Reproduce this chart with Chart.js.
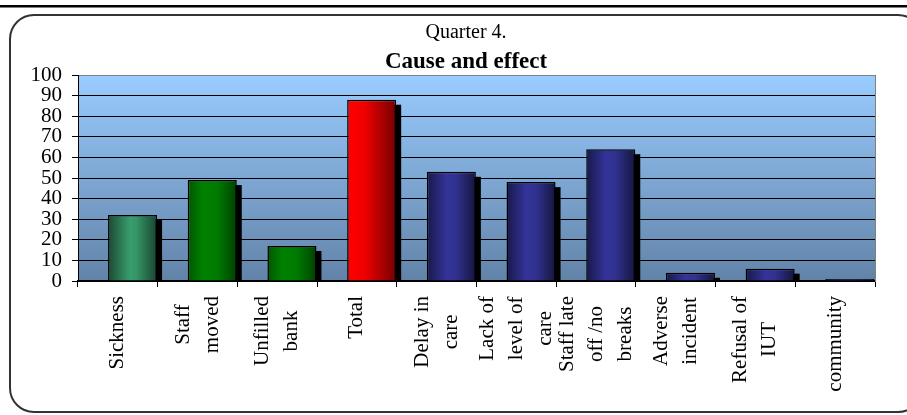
<!DOCTYPE html>
<html>
<head>
<meta charset="utf-8">
<title>Quarter 4. Cause and effect</title>
<script src="https://cdn.jsdelivr.net/npm/chart.js@4.4.0/dist/chart.umd.min.js"></script>
<style>
  html, body { margin: 0; padding: 0; background: #fff; }
  #wrap { width: 907px; height: 415px; position: relative; }
</style>
</head>
<body>
<div id="wrap"><canvas id="chart"></canvas></div>
<script>
// Categories (multi-line, as printed under the axis)
const categories = [
  ['Sickness'],
  ['Staff', 'moved'],
  ['Unfilled', 'bank'],
  ['Total'],
  ['Delay in', 'care'],
  ['Lack of', 'level of', 'care'],
  ['Staff late', 'off /no', 'breaks'],
  ['Adverse', 'incident'],
  ['Refusal of', 'IUT'],
  ['community']
];

// Number of occurrences per category
const counts = [32, 49, 17, 88, 53, 48, 64, 4, 6, 1];

// Value axis tick labels
const tickLabels = ['0', '10', '20', '30', '40', '50', '60', '70', '80', '90', '100'];

// Colour family used by each bar
const shadeGroups = ['sea', 'green', 'green', 'red', 'navy', 'navy', 'navy', 'navy', 'navy', 'navy'];

// Horizontal gradient stops for each colour family
const shades = {
  sea:   [[0, '#1b4a33'], [0.45, '#389d6c'], [0.58, '#349566'], [1, '#1a4431']],
  green: [[0, '#005600'], [0.3, '#008000'], [0.6, '#007a00'], [1, '#004200']],
  red:   [[0, '#ff0000'], [0.35, '#f00000'], [1, '#740000']],
  navy:  [[0, '#18184a'], [0.4, '#333399'], [0.6, '#31318f'], [1, '#15153f']]
};

const serif = "'Liberation Serif', 'Times New Roman', serif";

function roundedRect(ctx, x, y, w, h, r) {
  ctx.beginPath();
  ctx.moveTo(x + r, y);
  ctx.lineTo(x + w - r, y);
  ctx.arcTo(x + w, y, x + w, y + r, r);
  ctx.lineTo(x + w, y + h - r);
  ctx.arcTo(x + w, y + h, x + w - r, y + h, r);
  ctx.lineTo(x + r, y + h);
  ctx.arcTo(x, y + h, x, y + h - r, r);
  ctx.lineTo(x, y + r);
  ctx.arcTo(x, y, x + r, y, r);
  ctx.closePath();
}

// Page background, outer frame and the plot area fill
const framePlugin = {
  id: 'frame',
  beforeDraw(chart) {
    const { ctx, chartArea: a } = chart;
    ctx.save();
    ctx.fillStyle = '#fff';
    ctx.fillRect(0, 0, chart.width, chart.height);

    ctx.fillStyle = '#000';
    ctx.fillRect(0, 5, chart.width, 2.5);

    roundedRect(ctx, 10, 15, 912, 397, 24);
    ctx.lineWidth = 2;
    ctx.strokeStyle = '#333';
    ctx.stroke();

    const g = ctx.createLinearGradient(0, a.top, 0, a.bottom);
    g.addColorStop(0, '#99ccff');
    g.addColorStop(1, '#6283a8');
    ctx.fillStyle = g;
    ctx.fillRect(a.left, a.top, a.right - a.left, a.bottom - a.top);
    ctx.restore();
  }
};

// Drop shadow behind each bar and a shaded fill across its width
const barLookPlugin = {
  id: 'barLook',
  beforeDatasetsDraw(chart) {
    const { ctx, chartArea: a } = chart;
    const meta = chart.getDatasetMeta(1);
    ctx.save();
    ctx.beginPath();
    ctx.rect(a.left, a.top, a.right - a.left, a.bottom - a.top);
    ctx.clip();
    ctx.fillStyle = '#000';
    meta.data.forEach((bar, i) => {
      const left = bar.x - bar.width / 2;
      const top = Math.min(bar.y, bar.base);
      const h = Math.abs(bar.base - bar.y);
      ctx.fillRect(left + 5, top + 5, bar.width, h);
      const g = ctx.createLinearGradient(left, 0, left + bar.width, 0);
      shades[shadeGroups[i]].forEach(([o, c]) => g.addColorStop(o, c));
      bar.options.backgroundColor = g;
    });
    ctx.restore();
  }
};

// Vertical category labels: blocks hang from the axis, lines centred on each other
const xLabelPlugin = {
  id: 'xLabels',
  afterDraw(chart) {
    const { ctx } = chart;
    const xs = chart.scales.x;
    const lineStep = 29;
    const top = 296;
    ctx.save();
    ctx.font = '21px ' + serif;
    ctx.fillStyle = '#000';
    ctx.textAlign = 'center';
    ctx.textBaseline = 'middle';
    chart.data.labels.forEach((lines, i) => {
      const cx = xs.getPixelForValue(i);
      const longest = Math.max(...lines.map(t => ctx.measureText(t).width));
      const cy = top + longest / 2;
      lines.forEach((t, j) => {
        const lx = cx + (j - (lines.length - 1) / 2) * lineStep;
        ctx.save();
        ctx.translate(lx, cy);
        ctx.rotate(-Math.PI / 2);
        ctx.fillText(t, 0, 0);
        ctx.restore();
      });
    });
    ctx.restore();
  }
};

new Chart(document.getElementById('chart'), {
  type: 'bar',
  data: {
    labels: categories,
    datasets: [
      { label: 'spacer', data: categories.map(() => null), backgroundColor: 'rgba(0,0,0,0)', borderWidth: 0 },
      {
        label: 'Count',
        data: counts,
        backgroundColor: shadeGroups.map(g => shades[g][1][1]),
        borderColor: '#000',
        borderWidth: 1.5
      }
    ]
  },
  options: {
    responsive: true,
    maintainAspectRatio: false,
    animation: false,
    events: [],
    layout: { padding: { left: 25, right: 0, top: 0, bottom: 0 } },
    datasets: { bar: { categoryPercentage: 0.738, barPercentage: 1.667 } },
    plugins: {
      legend: { display: false },
      tooltip: { enabled: false },
      title: {
        display: true,
        text: 'Quarter 4.',
        color: '#000',
        font: { family: serif, size: 20, weight: 'normal', lineHeight: '20px' },
        padding: { top: 23, bottom: 4 }
      },
      subtitle: {
        display: true,
        text: 'Cause and effect',
        color: '#000',
        font: { family: serif, size: 23, weight: 'bold', lineHeight: '22px' },
        padding: { top: 4, bottom: 2 }
      }
    },
    scales: {
      x: {
        grid: { drawOnChartArea: false, drawTicks: true, tickLength: 6, tickColor: '#000', offset: true },
        border: { color: '#000', width: 1.5 },
        ticks: { display: false },
        afterFit: s => { s.height = 134; }
      },
      y: {
        min: 0,
        max: 100,
        afterBuildTicks: s => { s.ticks = tickLabels.map(t => ({ value: Number(t) })); },
        grid: {
          color: c => (c.tick && c.tick.value === 100 ? '#808080' : '#000'),
          tickColor: '#000',
          tickLength: 6,
          lineWidth: 1
        },
        border: { color: '#000', width: 1 },
        ticks: {
          color: '#000',
          padding: 10,
          autoSkip: false,
          font: { family: serif, size: 21, lineHeight: 1 },
          callback: (v, i) => tickLabels[i]
        },
        afterFit: s => { s.width = 53; }
      },
      yR: {
        position: 'right',
        display: true,
        grid: { display: false },
        ticks: { display: false },
        border: { display: true, color: '#808080', width: 1 },
        afterFit: s => { s.width = 32; }
      }
    }
  },
  plugins: [framePlugin, barLookPlugin, xLabelPlugin]
});
</script>
</body>
</html>
